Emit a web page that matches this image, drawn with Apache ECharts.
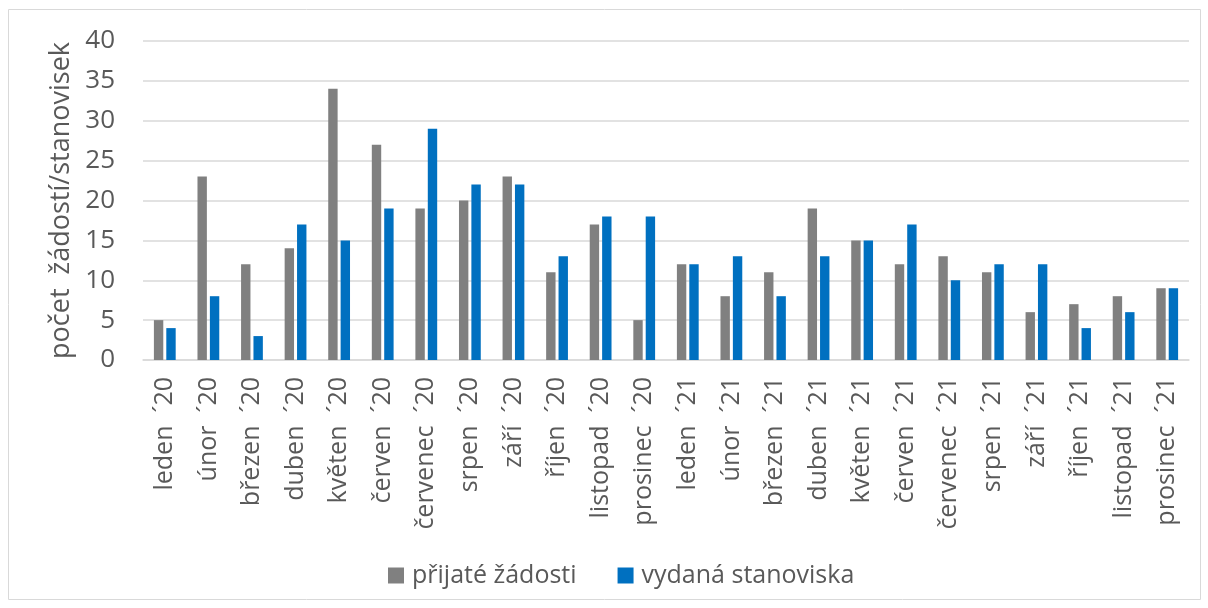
<!DOCTYPE html>
<html>
<head>
<meta charset="utf-8">
<script src="https://cdn.jsdelivr.net/npm/echarts@6/dist/echarts.min.js"></script>
<style>
  html, body { margin: 0; padding: 0; background: #fff; }
  #chart { width: 1208px; height: 608px; }
</style>
</head>
<body>
<div id="chart"></div>
<script>
// měsíce 2020-2021
const months = [
  'leden  ´20', 'únor  ´20', 'březen  ´20', 'duben  ´20', 'květen  ´20', 'červen  ´20',
  'červenec  ´20', 'srpen  ´20', 'září  ´20', 'říjen  ´20', 'listopad  ´20', 'prosinec  ´20',
  'leden  ´21', 'únor  ´21', 'březen  ´21', 'duben  ´21', 'květen  ´21', 'červen  ´21',
  'červenec  ´21', 'srpen  ´21', 'září  ´21', 'říjen  ´21', 'listopad  ´21', 'prosinec  ´21'
];
const prijate = [5, 23, 12, 14, 34, 27, 19, 20, 23, 11, 17, 5, 12, 8, 11, 19, 15, 12, 13, 11, 6, 7, 8, 9];
const vydana = [4, 8, 3, 17, 15, 19, 29, 22, 22, 13, 18, 18, 12, 13, 8, 13, 15, 17, 10, 12, 12, 4, 6, 9];
const seriesNames = ['přijaté žádosti', 'vydaná stanoviska'];

const font = 'Open Sans';
const textColor = '#595959';

const myChart = echarts.init(document.getElementById('chart'));
myChart.setOption({
  animation: false,
  textStyle: { fontFamily: font },
  graphic: [{
    type: 'rect',
    shape: { x: 8.5, y: 9.5, width: 1192, height: 590 },
    style: { fill: 'none', stroke: '#d9d9d9', lineWidth: 1 }
  }],
  grid: { left: 143, right: 19, top: 41, bottom: 248 },
  legend: {
    top: 558,
    left: 383,
    itemWidth: 16,
    itemHeight: 16,
    itemGap: 41,
    icon: 'rect',
    textStyle: { color: textColor, fontSize: 25, fontFamily: font, padding: [0, 0, 0, 3] },
    data: seriesNames
  },
  xAxis: {
    type: 'category',
    data: months,
    axisTick: { show: false },
    axisLine: { lineStyle: { color: '#d9d9d9', width: 1.5 } },
    axisLabel: {
      rotate: 90,
      interval: 0,
      margin: 17,
      color: textColor,
      fontSize: 25,
      fontFamily: font
    }
  },
  yAxis: {
    type: 'value',
    min: 0,
    max: 40,
    interval: 5,
    name: 'počet  žádostí/stanovisek',
    nameLocation: 'middle',
    nameGap: 64,
    nameTextStyle: { color: textColor, fontSize: 27, fontFamily: font },
    axisLabel: { color: textColor, fontSize: 26, margin: 28, fontFamily: font },
    splitLine: { lineStyle: { color: '#d9d9d9', width: 1.5 } }
  },
  series: [
    {
      name: seriesNames[0],
      type: 'bar',
      data: prijate,
      barGap: '32%',
      barCategoryGap: '50%',
      itemStyle: { color: '#808080' }
    },
    {
      name: seriesNames[1],
      type: 'bar',
      data: vydana,
      itemStyle: { color: '#0070c0' }
    }
  ]
});
</script>
</body>
</html>
